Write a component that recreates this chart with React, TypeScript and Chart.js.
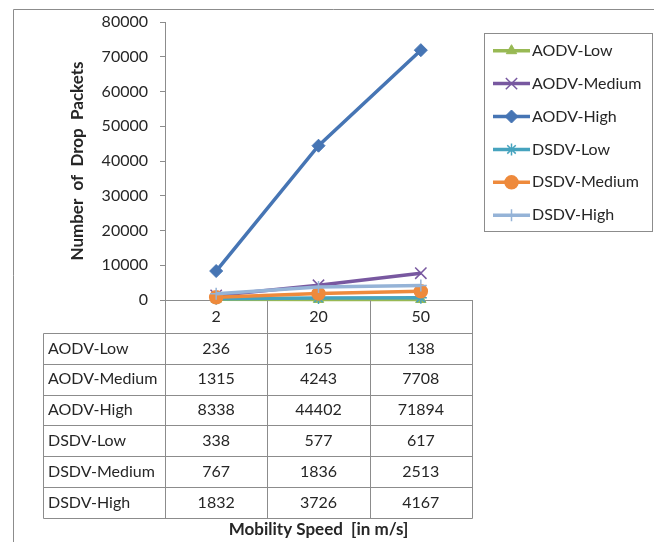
import { useEffect, useRef } from 'react';
import { Chart, registerables } from 'chart.js';
import { drawPoint } from 'chart.js/helpers';

Chart.register(...registerables);

const categories = ['2', '20', '50'];
const seriesNames = ['AODV-Low', 'AODV-Medium', 'AODV-High', 'DSDV-Low', 'DSDV-Medium', 'DSDV-High'];
const aodvLow = [236, 165, 138];
const aodvMedium = [1315, 4243, 7708];
const aodvHigh = [8338, 44402, 71894];
const dsdvLow = [338, 577, 617];
const dsdvMedium = [767, 1836, 2513];
const dsdvHigh = [1832, 3726, 4167];
const yTickValues = [0, 10000, 20000, 30000, 40000, 50000, 60000, 70000, 80000];
const yTitle = 'Number  of  Drop  Packets';
const xTitle = 'Mobility Speed  [in m/s]';

const seriesValues = [aodvLow, aodvMedium, aodvHigh, dsdvLow, dsdvMedium, dsdvHigh];
const seriesColors = ['#98B954', '#7858A0', '#4675B4', '#46A3BE', '#EE8A3C', '#95B3D7'];
const seriesMarkers = ['triangle', 'crossRot', 'rectRot', 'star', 'circle', 'cross'];
const markerRadius = [6, 8, 6.5, 6, 6.5, 6];
const markerBorder = [1, 1.5, 1, 1.5, 1.5, 1.5];

const FONT = 'Lato, "Open Sans", "DejaVu Sans", sans-serif';
const TEXT = '#262626';
const GRID = '#8C8C8C';

const W = 654;
const H = 542;

function line(ctx: CanvasRenderingContext2D, x1: number, y1: number, x2: number, y2: number) {
  ctx.beginPath();
  ctx.moveTo(x1, y1);
  ctx.lineTo(x2, y2);
  ctx.stroke();
}

const framePlugin = {
  id: 'frame',
  beforeDraw(chart: any) {
    const ctx = chart.ctx as CanvasRenderingContext2D;
    ctx.save();
    ctx.fillStyle = '#ffffff';
    ctx.fillRect(0, 0, W, H);
    ctx.strokeStyle = GRID;
    ctx.lineWidth = 1;
    line(ctx, 13.5, 9.5, W, 9.5);
    line(ctx, 13.5, 9.5, 13.5, H);
    ctx.restore();
  },
};

const tablePlugin = {
  id: 'dataTable',
  afterDraw(chart: any) {
    const ctx = chart.ctx as CanvasRenderingContext2D;
    const area = chart.chartArea;
    const xs = chart.scales.x;
    const left = 43.5;
    const top = Math.round(area.bottom) + 0.5;
    const headerH = 32.5;
    const rowH = 30.8;
    const colW = (area.right - area.left) / categories.length;
    const bottom = Math.round(top + headerH + rowH * seriesNames.length) + 0.5;
    ctx.save();
    ctx.strokeStyle = GRID;
    ctx.lineWidth = 1;
    for (let r = 0; r <= seriesNames.length; r++) {
      const y = Math.round(top + headerH + r * rowH) + 0.5;
      line(ctx, left, y, Math.round(area.right) + 0.5, y);
    }
    line(ctx, left, Math.round(top + headerH) + 0.5, left, bottom);
    for (let i = 0; i <= categories.length; i++) {
      const xx = Math.round(area.left + i * colW) + 0.5;
      line(ctx, xx, top, xx, bottom);
    }
    ctx.fillStyle = TEXT;
    ctx.font = `16px ${FONT}`;
    ctx.textBaseline = 'middle';
    ctx.textAlign = 'center';
    categories.forEach((c, i) => {
      ctx.fillText(c, xs.getPixelForValue(i), top + headerH / 2);
    });
    seriesNames.forEach((name, r) => {
      const cy = top + headerH + r * rowH + rowH / 2;
      ctx.textAlign = 'left';
      ctx.fillText(name, 48, cy);
      ctx.textAlign = 'center';
      seriesValues[r].forEach((v, i) => {
        ctx.fillText(String(v), xs.getPixelForValue(i), cy);
      });
    });
    ctx.restore();
  },
};

const legendPlugin = {
  id: 'boxLegend',
  afterDraw(chart: any) {
    const ctx = chart.ctx as CanvasRenderingContext2D;
    ctx.save();
    ctx.strokeStyle = GRID;
    ctx.lineWidth = 1;
    ctx.fillStyle = '#ffffff';
    ctx.fillRect(484.5, 33.5, 168, 198);
    ctx.strokeRect(484.5, 33.5, 168, 198);
    seriesNames.forEach((name, i) => {
      const cy = 50.7 + i * 32.9;
      ctx.strokeStyle = seriesColors[i];
      ctx.lineWidth = 3.5;
      line(ctx, 493, cy, 530, cy);
      ctx.fillStyle = seriesColors[i];
      ctx.lineWidth = markerBorder[i];
      drawPoint(ctx, {
        pointStyle: seriesMarkers[i] as any,
        radius: markerRadius[i],
        rotation: 0,
        borderWidth: markerBorder[i],
      } as any, 511.5, cy);
      ctx.fillStyle = TEXT;
      ctx.font = `16px ${FONT}`;
      ctx.textAlign = 'left';
      ctx.textBaseline = 'middle';
      ctx.fillText(name, 532, cy);
    });
    ctx.restore();
  },
};

export default function App() {
  const ref = useRef<HTMLCanvasElement | null>(null);
  useEffect(() => {
    if (!ref.current) return;
    const chart = new Chart(ref.current, {
      type: 'line',
      data: {
        labels: categories,
        datasets: seriesNames.map((name, i) => ({
          label: name,
          data: seriesValues[i],
          borderColor: seriesColors[i],
          backgroundColor: seriesColors[i],
          borderWidth: 3.5,
          pointStyle: seriesMarkers[i] as any,
          pointRadius: markerRadius[i],
          pointBorderWidth: markerBorder[i],
          pointBackgroundColor: seriesColors[i],
          pointBorderColor: seriesColors[i],
          tension: 0,
          fill: false,
          clip: false as any,
          order: seriesNames.length - i,
        })),
      },
      options: {
        responsive: false,
        animation: false,
        events: [],
        layout: { padding: { left: 14, right: W - 472, top: 22, bottom: 0 } },
        plugins: {
          legend: { display: false },
          tooltip: { enabled: false },
        },
        scales: {
          x: {
            type: 'category',
            offset: true,
            ticks: { display: false },
            grid: { display: false },
            border: { display: true, color: GRID, width: 1 },
            title: {
              display: true,
              text: xTitle,
              color: TEXT,
              font: { family: FONT, size: 17, weight: 'bold' },
              padding: { top: 0, bottom: 2 },
            },
            afterFit(scale: any) {
              scale.height = H - 300;
            },
          },
          y: {
            type: 'linear',
            min: yTickValues[0],
            max: yTickValues[yTickValues.length - 1],
            afterBuildTicks(scale: any) {
              scale.ticks = yTickValues.map((v) => ({ value: v }));
            },
            ticks: {
              color: TEXT,
              font: { family: FONT, size: 16 },
              padding: 12,
              callback: (v: any) => String(v),
            },
            grid: { display: true, drawOnChartArea: false, drawTicks: true, tickLength: 5, color: GRID },
            border: { display: true, color: GRID, width: 1 },
            title: {
              display: true,
              text: yTitle,
              color: TEXT,
              font: { family: FONT, size: 17, weight: 'bold' },
              padding: { top: 53, bottom: 0 },
            },
            afterFit(scale: any) {
              scale.width = 165 - 14;
            },
          },
        },
      } as any,
      plugins: [framePlugin, tablePlugin, legendPlugin],
    });
    return () => chart.destroy();
  }, []);
  return (
    <div style={{ position: 'absolute', left: 0, top: 0, width: W, height: H }}>
      <canvas ref={ref} width={W} height={H} style={{ width: W, height: H, display: 'block' }} />
    </div>
  );
}
